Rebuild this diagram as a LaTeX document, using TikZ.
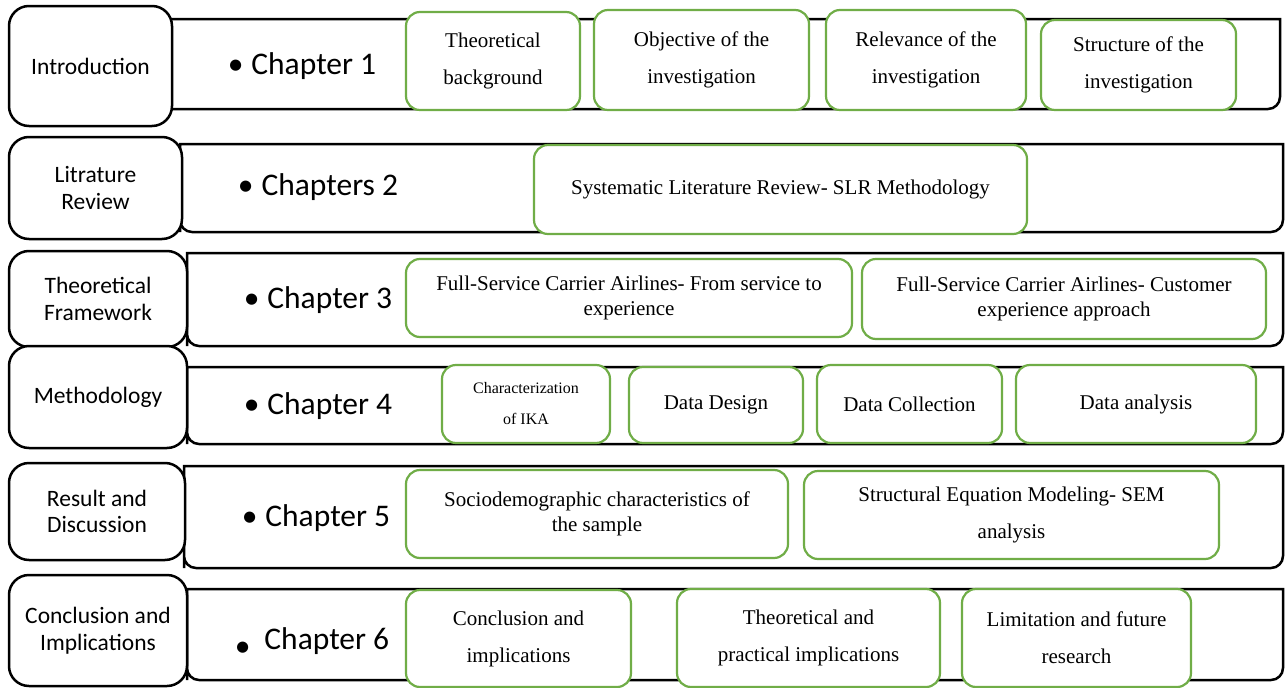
\documentclass[tikz,border=0pt]{standalone}
\usepackage{fontspec}
\setmainfont{Liberation Serif}
\newfontfamily\calfont{Carlito}
\definecolor{boxgreen}{RGB}{112,173,71}
\newcommand{\boxat}[7]{\node[#1, minimum width={(#4-#2)*1pt}, minimum height={(#5-#3)*1pt}] (#6) at ({(#2+#4)/2},{(#3+#5)/2}) {#7};}
\newcommand{\bandpath}[4]{\draw[bandline] (#1,#4) -- (#1,#2) -- (#3,#2) [rounded corners=12pt] -- (#3,#4) -- (#1,#4) [sharp corners] -- cycle;}
\begin{document}
\begin{tikzpicture}[x=1pt,y=-1pt,
  secbox/.style={draw=black, line width=2.5pt, rounded corners=20pt, fill=white, inner sep=0pt, align=center, font=\calfont\fontsize{23.5}{26.5}\selectfont},
  gbox/.style={draw=boxgreen, line width=2.2pt, rounded corners=14pt, fill=white, inner sep=0pt, align=center, font=\fontsize{21}{37}\selectfont},
  gtight/.style={gbox, font=\fontsize{21}{25}\selectfont},
  gsmall/.style={gbox, font=\fontsize{16}{31}\selectfont},
  bandline/.style={draw=black, line width=2.5pt, fill=white},
  chap/.style={font=\calfont\fontsize{31.5}{36}\selectfont, inner sep=0pt}
]
\useasboundingbox (0,0) rectangle (1286,688);
% Row 1
\bandpath{150}{19}{1280}{109}
\boxat{secbox}{9}{6}{172}{126}{s1}{Introduction}
\boxat{gbox}{406}{12}{580}{110}{g11}{Theoretical\\background}
\boxat{gbox}{594}{10}{809}{110}{g12}{Objective of the\\investigation}
\boxat{gbox}{826}{10}{1026}{110}{g13}{Relevance of the\\investigation}
\boxat{gbox}{1041}{20}{1236}{110}{g14}{Structure of the\\investigation}
\node[chap] (c1) at (302,66) {•\hspace{8pt}Chapter 1};
% Row 2
\bandpath{180}{144}{1283}{232}
\boxat{secbox}{9}{137}{182}{239}{s2}{Litrature\\Review}
\boxat{gbox}{534}{145}{1027}{234}{g21}{Systematic Literature Review- SLR Methodology}
\node[chap] (c2) at (318,187) {•\hspace{8pt}Chapters 2};
% Row 3
\bandpath{187}{253}{1283}{346}
\boxat{secbox}{9}{251}{187}{347}{s3}{Theoretical\\Framework}
\boxat{gtight}{406}{259}{852}{337}{g31}{Full-Service Carrier Airlines- From service to\\experience}
\boxat{gtight}{862}{259}{1266}{339}{g32}{Full-Service Carrier Airlines- Customer\\experience approach}
\node[chap] (c3) at (318,300) {•\hspace{8pt}Chapter 3};
% Row 4
\bandpath{187}{367}{1283}{444}
\boxat{secbox}{9}{346}{187}{448}{s4}{Methodology}
\boxat{gsmall}{442}{365}{610}{443}{g41}{Characterization\\of IKA}
\boxat{gbox}{629}{367}{803}{443}{g42}{Data Design}
\boxat{gbox}{817}{365}{1002}{443}{g43}{Data Collection}
\boxat{gbox}{1016}{365}{1256}{443}{g44}{Data analysis}
\node[chap] (c4) at (318,406) {•\hspace{8pt}Chapter 4};
% Row 5
\bandpath{184}{466}{1283}{568}
\boxat{secbox}{9}{463}{185}{560}{s5}{Result and\\Discussion}
\boxat{gtight}{406}{470}{788}{558}{g51}{Sociodemographic characteristics of\\the sample}
\boxat{gbox}{804}{471}{1219}{559}{g52}{Structural Equation Modeling- SEM\\analysis}
\node[chap] (c5) at (316,518) {•\hspace{8pt}Chapter 5};
% Row 6
\bandpath{187}{589}{1283}{680}
\boxat{secbox}{9}{575}{187}{686}{s6}{Conclusion and\\Implications}
\boxat{gbox}{406}{590}{631}{687}{g61}{Conclusion and\\implications}
\boxat{gbox}{677}{589}{940}{687}{g62}{Theoretical and\\practical implications}
\boxat{gbox}{962}{589}{1191}{687}{g63}{Limitation and future\\research}
\node[chap] (c6) at (312,642) {\raisebox{-0.22em}{•}\hspace{14pt}Chapter 6};
\end{tikzpicture}
\end{document}
